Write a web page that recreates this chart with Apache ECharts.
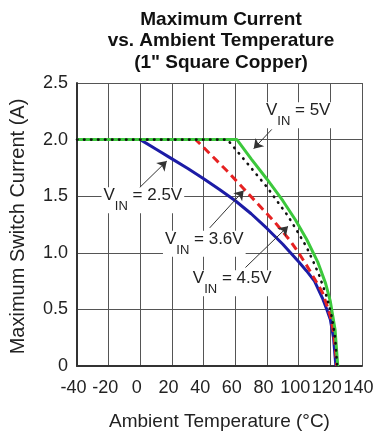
<!DOCTYPE html>
<html><head><meta charset="utf-8">
<script src="https://cdn.jsdelivr.net/npm/echarts@6/dist/echarts.min.js"></script>
<style>html,body{margin:0;padding:0;background:#fff}#c{width:378px;height:436px}</style>
</head><body><div id="c"></div>
<script>
const titleText = 'Maximum Current\nvs. Ambient Temperature\n(1" Square Copper)';
const xName = 'Ambient Temperature (°C)';
const yName = 'Maximum Switch Current (A)';
const xTicks = [-40, -20, 0, 20, 40, 60, 80, 100, 120, 140];
const yTicks = [0, 0.5, 1.0, 1.5, 2.0, 2.5];

// V_IN = 2.5V (blue)
const t25 = [-40, 0, 10, 20, 30, 40, 50, 60, 70, 80, 90, 100, 105, 110, 115, 118, 120, 122, 123.5];
const i25 = [2, 2, 1.915, 1.83, 1.745, 1.655, 1.56, 1.46, 1.345, 1.215, 1.075, 0.92, 0.84, 0.75, 0.60, 0.49, 0.41, 0.25, 0];
// V_IN = 3.6V (red dashed)
const t36 = [-40, 35, 45, 55, 65, 75, 85, 95, 100, 105, 110, 115, 118, 120, 122, 123.2, 124];
const i36 = [2, 2, 1.86, 1.72, 1.57, 1.42, 1.27, 1.10, 1.00, 0.89, 0.77, 0.65, 0.53, 0.44, 0.30, 0.15, 0];
// V_IN = 4.5V (black dotted)
const t45 = [-40, 55, 67, 80, 93, 100, 105, 109, 113, 118, 121, 123, 124.3];
const i45 = [2, 2, 1.80, 1.58, 1.33, 1.17, 1.05, 0.93, 0.80, 0.60, 0.43, 0.25, 0];
// V_IN = 5V (green)
const t5 = [-40, 61, 70, 80, 90, 98, 105, 112, 117, 120, 123, 124.7];
const i5 = [2, 2, 1.83, 1.65, 1.46, 1.29, 1.12, 0.92, 0.73, 0.57, 0.32, 0];

// annotations: label text value, label anchor (temp, current), arrow tail, arrow head
const annLabels = ['5V', '2.5V', '3.6V', '4.5V'];
const annAnchor = [[99.7, 2.25], [1.6, 1.50], [40.4, 1.115], [58, 0.767]];
const annTail = [[83, 2.09], [-0.9, 1.57], [43.8, 1.22], [66.4, 0.87]];
const annHead = [[71.6, 1.92], [16.7, 1.81], [65.3, 1.55], [93.3, 1.234]];

const FONT = '"Liberation Sans", Arial, sans-serif';
const zip = (a, b) => a.map((v, k) => [v, b[k]]);

const chart = echarts.init(document.getElementById('c'), null, {renderer: 'canvas'});

const lineBase = {type: 'line', showSymbol: false, symbol: 'none', smooth: false, animation: false, silent: true};

chart.setOption({
  backgroundColor: '#fff',
  animation: false,
  title: {
    text: titleText, left: 216, top: 4, textAlign: 'center',
    textStyle: {fontFamily: FONT, fontSize: 19, fontWeight: 'bold', color: '#111', lineHeight: 21.5}
  },
  grid: {left: 72, right: 16, top: 83, bottom: 66, containLabel: false},
  xAxis: {
    type: 'value', min: -40, max: 140, interval: 20,
    name: xName, nameLocation: 'middle', nameGap: 46,
    nameTextStyle: {fontFamily: FONT, fontSize: 19, color: '#222'},
    axisLine: {show: true, onZero: false, lineStyle: {color: '#333', width: 2}},
    axisTick: {show: false},
    axisLabel: {fontFamily: FONT, fontSize: 18, color: '#222', margin: 13, padding: [0, 7, 0, 0],
      formatter: v => xTicks.includes(v) ? String(v) : ''},
    splitLine: {show: true, lineStyle: {color: '#555', width: 1}}
  },
  yAxis: {
    type: 'value', min: 0, max: 2.5, interval: 0.5,
    name: yName, nameLocation: 'middle', nameGap: 49,
    nameTextStyle: {fontFamily: FONT, fontSize: 20, color: '#222', padding: [0, 4, 0, 0]},
    axisLine: {show: true, onZero: false, lineStyle: {color: '#333', width: 2}},
    axisTick: {show: false},
    axisLabel: {fontFamily: FONT, fontSize: 18, color: '#222', margin: 9,
      formatter: v => yTicks.some(t => Math.abs(t - v) < 1e-9) ? (v === 0 ? '0' : v.toFixed(1)) : ''},
    splitLine: {show: true, lineStyle: {color: '#555', width: 1}}
  },
  series: [
    Object.assign({}, lineBase, {name: '2.5V', data: zip(t25, i25), lineStyle: {color: '#1c1ca6', width: 3}, z: 2}),
    Object.assign({}, lineBase, {name: '3.6V', data: zip(t36, i36), lineStyle: {color: '#e62222', width: 3, type: [8, 5]}, z: 3}),
    Object.assign({}, lineBase, {name: '5V', data: zip(t5, i5), lineStyle: {color: '#3cc83c', width: 3}, z: 4}),
    Object.assign({}, lineBase, {name: '4.5V', data: zip(t45, i45), lineStyle: {color: '#111', width: 2.6, type: [0.5, 6.5], cap: 'round'}, z: 5}),
    Object.assign({}, lineBase, {
      name: 'ann', data: [], z: 10,
      markLine: {
        silent: true, animation: false,
        symbol: ['none', 'arrow'], symbolSize: 9,
        lineStyle: {color: '#333', width: 1, type: 'solid'},
        label: {show: false},
        emphasis: {disabled: true},
        data: annTail.map((t, k) => [{coord: t}, {coord: annHead[k]}])
      },
      markPoint: {
        silent: true, animation: false,
        symbol: 'circle', symbolSize: 0,
        data: annAnchor.map((a, k) => ({
          coord: a,
          label: {
            show: true, position: 'inside', offset: [0, 4],
            formatter: '{v|V}{s|IN}{v| = ' + annLabels[k] + '}',
            backgroundColor: '#fff', padding: [0, 2],
            rich: {
              v: {fontFamily: FONT, fontSize: 17, color: '#222', lineHeight: 17, verticalAlign: 'top'},
              s: {fontFamily: FONT, fontSize: 13, color: '#222', lineHeight: 26, verticalAlign: 'bottom'}
            }
          }
        }))
      }
    })
  ]
});
</script></body></html>
